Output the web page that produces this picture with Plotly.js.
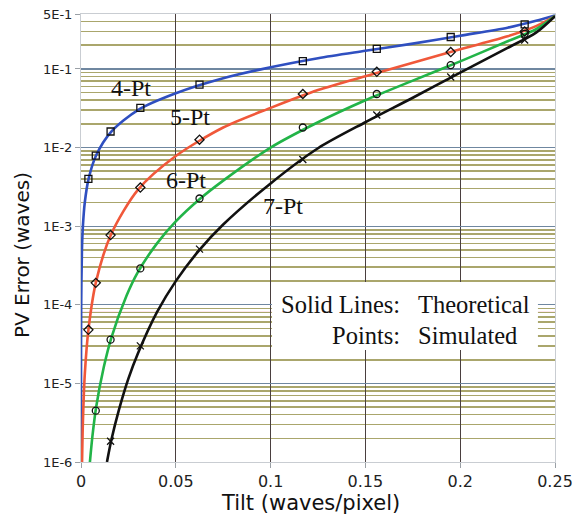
<!DOCTYPE html>
<html>
<head>
<meta charset="utf-8">
<script src="https://cdn.plot.ly/plotly-3.0.1.min.js"></script>
<style>html,body{margin:0;padding:0;background:#fff;}#chart{width:581px;height:521px;}</style>
</head>
<body>
<div id="chart"></div>
<script>
// Simulated points (tilt in waves/pixel)
const simTilt = [0.0039, 0.0078, 0.0156, 0.0313, 0.0625, 0.117, 0.156, 0.195, 0.234];
const sim4 = [4.0e-3, 7.9e-3, 1.6e-2, 3.2e-2, 6.3e-2, 0.126, 0.18, 0.255, 0.37];
const sim5 = [4.8e-5, 1.9e-4, 7.7e-4, 3.1e-3, 1.26e-2, 0.048, 0.092, 0.164, 0.30];
const sim6 = [null, 4.5e-6, 3.6e-5, 2.9e-4, 2.25e-3, 1.8e-2, 0.048, 0.112, 0.28];
const sim7 = [null, null, 1.84e-6, 3.0e-5, 5.1e-4, 7.05e-3, 0.026, 0.079, 0.233];

// Theoretical curves
const line4X = [0.000001, 0.00001, 0.0001, 0.0005, 0.001, 0.002, 0.004, 0.008, 0.016, 0.03, 0.05, 0.075, 0.1, 0.125, 0.15, 0.175, 0.2, 0.225, 0.24, 0.25];
const line4Y = [1e-6, 1e-5, 1e-4, 5e-4, 1e-3, 2e-3, 4e-3, 8e-3, 1.6e-2, 3.0e-2, 4.9e-2, 7.6e-2, 0.105, 0.137, 0.17, 0.21, 0.265, 0.335, 0.41, 0.48];
const line5X = [0.00056, 0.001, 0.002, 0.004, 0.008, 0.016, 0.03, 0.05, 0.075, 0.1, 0.125, 0.15, 0.175, 0.2, 0.225, 0.24, 0.25];
const line5Y = [1e-6, 3.2e-6, 1.3e-5, 5e-5, 2e-4, 8e-4, 2.9e-3, 7.8e-3, 1.8e-2, 3.2e-2, 5.4e-2, 8.1e-2, 0.12, 0.178, 0.26, 0.35, 0.47];
const line6X = [0.0047, 0.006, 0.008, 0.012, 0.016, 0.024, 0.03, 0.04, 0.05, 0.0625, 0.075, 0.1, 0.125, 0.15, 0.175, 0.2, 0.225, 0.24, 0.25];
const line6Y = [1e-6, 2.1e-6, 5e-6, 1.6e-5, 3.8e-5, 1.3e-4, 2.6e-4, 6e-4, 1.15e-3, 2.2e-3, 3.8e-3, 1.0e-2, 2.1e-2, 4.0e-2, 7.1e-2, 0.125, 0.225, 0.32, 0.47];
const line7X = [0.0137, 0.016, 0.02, 0.025, 0.03, 0.04, 0.05, 0.0625, 0.075, 0.1, 0.125, 0.15, 0.175, 0.2, 0.225, 0.24, 0.25];
const line7Y = [1e-6, 1.9e-6, 4.6e-6, 1.15e-5, 2.4e-5, 8e-5, 2.0e-4, 5.0e-4, 1.05e-3, 3.5e-3, 9.8e-3, 2.1e-2, 4.3e-2, 9.0e-2, 0.185, 0.29, 0.47];

// Axis ticks
const xTickVals = [0, 0.05, 0.1, 0.15, 0.2, 0.25];
const xTickText = ['0', '0.05', '0.1', '0.15', '0.2', '0.25'];
const yTickVals = [1e-6, 1e-5, 1e-4, 1e-3, 1e-2, 1e-1, 0.5];
const yTickText = ['1E-6', '1E-5', '1E-4', '1E-3', '1E-2', '1E-1', '5E-1'];

const seriesNames = ['4-Pt', '5-Pt', '6-Pt', '7-Pt'];
const lineColors = ['#2f4fc0', '#f0583a', '#22b448', '#111111'];
const markerSymbols = ['square-open', 'diamond-open', 'circle-open', 'x-thin-open'];

// minor gridline positions (2..9 within each decade)
const minorVals = [];
for (let d = -6; d <= -1; d++) {
  for (let m = 2; m <= 9; m++) {
    const v = m * Math.pow(10, d);
    if (v < 0.5) minorVals.push(v);
  }
}

const lines = [[line4X, line4Y], [line5X, line5Y], [line6X, line6Y], [line7X, line7Y]];
const sims = [sim4, sim5, sim6, sim7];

const traces = [];
lines.forEach((l, i) => {
  traces.push({
    x: l[0], y: l[1], type: 'scatter', mode: 'lines', name: seriesNames[i],
    line: {color: lineColors[i], width: 2.6, shape: 'spline', smoothing: 0.8},
    showlegend: false, hoverinfo: 'skip'
  });
});
sims.forEach((s, i) => {
  traces.push({
    x: simTilt, y: s, type: 'scatter', mode: 'markers', name: seriesNames[i] + ' sim',
    marker: {symbol: markerSymbols[i], color: '#111', size: 7, line: {width: 1.3, color: '#111'}},
    showlegend: false, hoverinfo: 'skip'
  });
});

const serif = 'Liberation Serif, Times New Roman, serif';
const sans = 'DejaVu Sans, Verdana, sans-serif';

function ann(text, x, y, xanchor, size, family, extra) {
  return Object.assign({text: text, xref: 'paper', yref: 'paper', x: x, y: y,
    xanchor: xanchor, yanchor: 'middle', showarrow: false,
    font: {family: family, size: size, color: '#111'}}, extra || {});
}

const layout = {
  width: 581, height: 521,
  margin: {l: 81, r: 26, t: 14, b: 59},
  paper_bgcolor: '#ffffff', plot_bgcolor: '#ffffff',
  showlegend: false,
  xaxis: {
    range: [0, 0.25], tickvals: xTickVals, ticktext: xTickText,
    showgrid: true, gridcolor: '#4a3f3f', gridwidth: 1.2, zeroline: false,
    showline: true, linecolor: '#c9cdd2', linewidth: 1, mirror: true,
    ticks: 'outside', ticklen: 5, tickcolor: '#9aa0a6',
    tickfont: {family: sans, size: 16, color: '#222'}
  },
  yaxis: {
    type: 'log', range: [-6, Math.log10(0.5)],
    tickvals: yTickVals, ticktext: yTickText,
    showgrid: true, gridcolor: '#6f87a0', gridwidth: 1.3, zeroline: false,
    showline: true, linecolor: '#c9cdd2', linewidth: 1, mirror: true,
    ticks: 'outside', ticklen: 5, tickcolor: '#9aa0a6',
    tickfont: {family: sans, size: 13, color: '#222'},
    minor: {tickvals: minorVals, showgrid: true, gridcolor: '#aaa66c', gridwidth: 1.6, ticks: ''}
  },
  shapes: [
    {type: 'line', xref: 'paper', yref: 'paper', x0: 0, x1: 1, y0: 0.334, y1: 0.334,
     line: {color: '#f2a0c0', width: 1.2}, layer: 'below'},
    {type: 'rect', xref: 'paper', yref: 'paper', x0: 0.403, x1: 0.964, y0: 0.25, y1: 0.402,
     fillcolor: '#ffffff', line: {width: 0}, layer: 'above'}
  ],
  annotations: [
    ann('4-Pt', 0.105, 0.835, 'center', 24, serif),
    ann('5-Pt', 0.230, 0.771, 'center', 24, serif),
    ann('6-Pt', 0.222, 0.630, 'center', 24, serif),
    ann('7-Pt', 0.426, 0.572, 'center', 24, serif),
    ann('Solid Lines:', 0.677, 0.352, 'right', 24.5, serif),
    ann('Theoretical', 0.707, 0.352, 'left', 24.5, serif),
    ann('Points:', 0.677, 0.283, 'right', 24.5, serif),
    ann('Simulated', 0.707, 0.283, 'left', 24.5, serif),
    ann('Tilt (waves/pixel)', 0.485, -0.092, 'center', 21, sans),
    ann('PV Error (waves)', -0.1245, 0.462, 'center', 20, sans, {textangle: -90})
  ]
};

Plotly.newPlot('chart', traces, layout, {staticPlot: true, displayModeBar: false});
</script>
</body>
</html>
